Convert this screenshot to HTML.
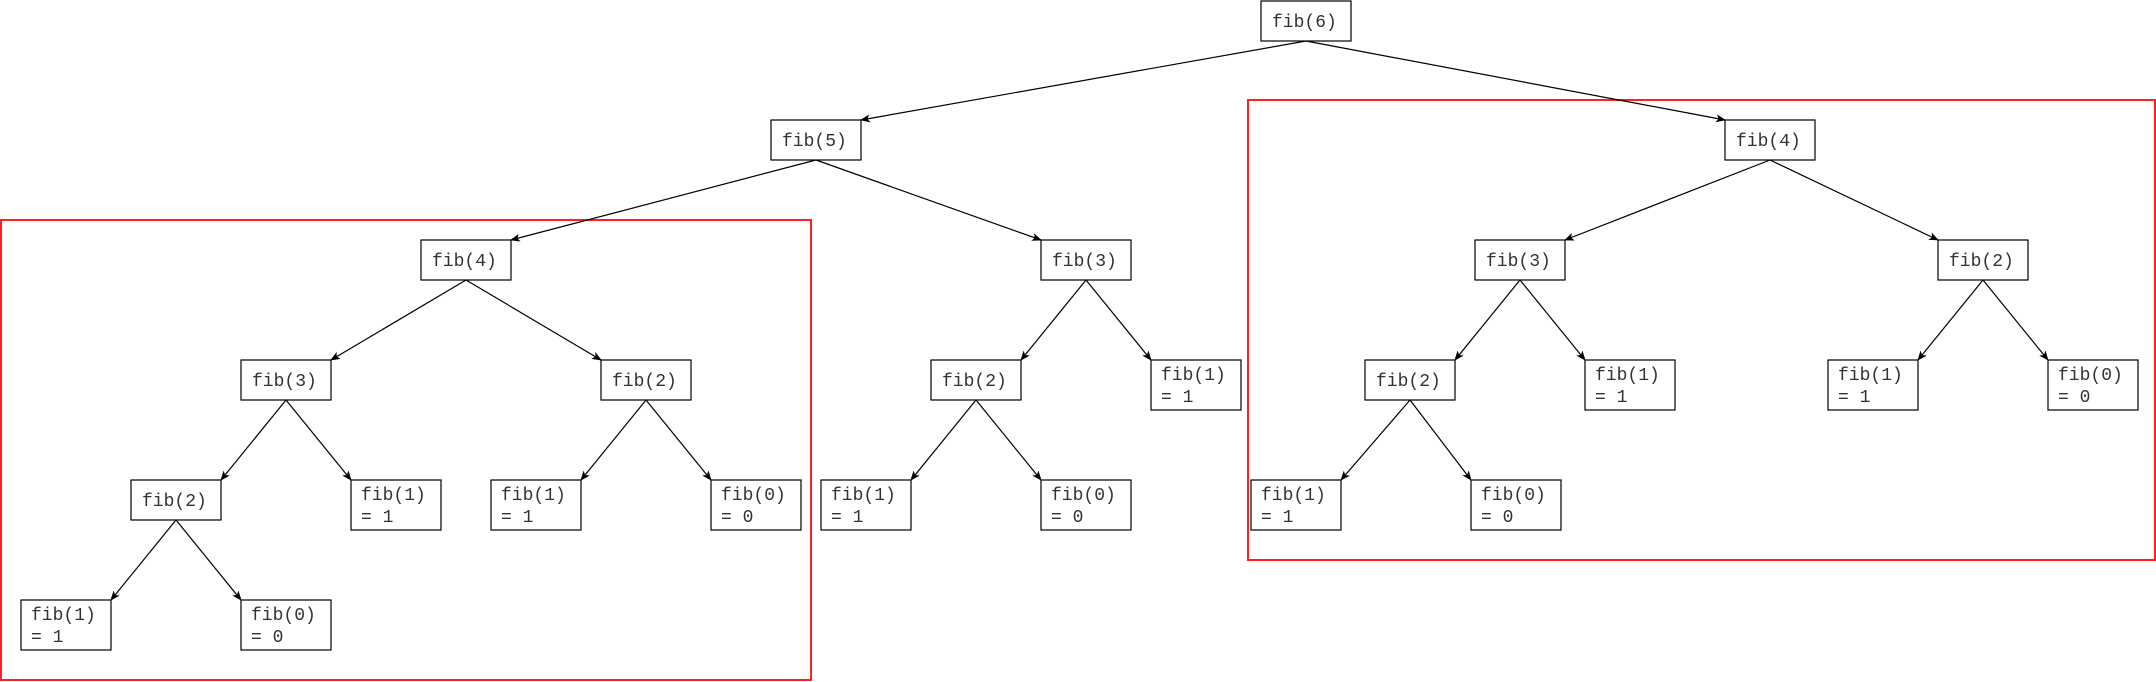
<!DOCTYPE html>
<html><head><meta charset="utf-8"><style>
html,body{margin:0;padding:0;background:#fff;}
svg{display:block;}
text{font-family:"Liberation Mono",monospace;font-size:18px;fill:#333;}
</style></head><body>
<svg width="2156" height="682" viewBox="0 0 2156 682" xmlns="http://www.w3.org/2000/svg">
<defs><marker id="a" markerWidth="10" markerHeight="10" refX="9" refY="4" orient="auto" markerUnits="userSpaceOnUse"><path d="M0,0 L10,4 L0,8 L2.5,4 Z" fill="#000"/></marker></defs>
<rect x="1" y="220" width="810" height="460" fill="none" stroke="#ff2020" stroke-width="2"/>
<rect x="1248" y="100" width="907" height="460" fill="none" stroke="#ff2020" stroke-width="2"/>
<g stroke="#000" stroke-width="1.2" marker-end="url(#a)">
<line x1="1306" y1="41" x2="861" y2="120"/>
<line x1="1306" y1="41" x2="1725" y2="120"/>
<line x1="816" y1="160" x2="511" y2="240"/>
<line x1="816" y1="160" x2="1041" y2="240"/>
<line x1="466" y1="280" x2="331" y2="360"/>
<line x1="466" y1="280" x2="601" y2="360"/>
<line x1="286" y1="400" x2="221" y2="480"/>
<line x1="286" y1="400" x2="351" y2="480"/>
<line x1="176" y1="520" x2="111" y2="600"/>
<line x1="176" y1="520" x2="241" y2="600"/>
<line x1="646" y1="400" x2="581" y2="480"/>
<line x1="646" y1="400" x2="711" y2="480"/>
<line x1="1086" y1="280" x2="1021" y2="360"/>
<line x1="1086" y1="280" x2="1151" y2="360"/>
<line x1="976" y1="400" x2="911" y2="480"/>
<line x1="976" y1="400" x2="1041" y2="480"/>
<line x1="1770" y1="160" x2="1565" y2="240"/>
<line x1="1770" y1="160" x2="1938" y2="240"/>
<line x1="1520" y1="280" x2="1455" y2="360"/>
<line x1="1520" y1="280" x2="1585" y2="360"/>
<line x1="1410" y1="400" x2="1341" y2="480"/>
<line x1="1410" y1="400" x2="1471" y2="480"/>
<line x1="1983" y1="280" x2="1918" y2="360"/>
<line x1="1983" y1="280" x2="2048" y2="360"/>
</g>
<g fill="#fff" stroke="#000" stroke-width="1.2">
<rect x="1261" y="1" width="90" height="40"/>
<rect x="771" y="120" width="90" height="40"/>
<rect x="1725" y="120" width="90" height="40"/>
<rect x="421" y="240" width="90" height="40"/>
<rect x="1041" y="240" width="90" height="40"/>
<rect x="1475" y="240" width="90" height="40"/>
<rect x="1938" y="240" width="90" height="40"/>
<rect x="241" y="360" width="90" height="40"/>
<rect x="601" y="360" width="90" height="40"/>
<rect x="931" y="360" width="90" height="40"/>
<rect x="1151" y="360" width="90" height="50"/>
<rect x="1365" y="360" width="90" height="40"/>
<rect x="1585" y="360" width="90" height="50"/>
<rect x="1828" y="360" width="90" height="50"/>
<rect x="2048" y="360" width="90" height="50"/>
<rect x="131" y="480" width="90" height="40"/>
<rect x="351" y="480" width="90" height="50"/>
<rect x="491" y="480" width="90" height="50"/>
<rect x="711" y="480" width="90" height="50"/>
<rect x="821" y="480" width="90" height="50"/>
<rect x="1041" y="480" width="90" height="50"/>
<rect x="1251" y="480" width="90" height="50"/>
<rect x="1471" y="480" width="90" height="50"/>
<rect x="21" y="600" width="90" height="50"/>
<rect x="241" y="600" width="90" height="50"/>
</g>
<g>
<text x="1272" y="27">fib(6)</text>
<text x="782" y="146">fib(5)</text>
<text x="1736" y="146">fib(4)</text>
<text x="432" y="266">fib(4)</text>
<text x="1052" y="266">fib(3)</text>
<text x="1486" y="266">fib(3)</text>
<text x="1949" y="266">fib(2)</text>
<text x="252" y="386">fib(3)</text>
<text x="612" y="386">fib(2)</text>
<text x="942" y="386">fib(2)</text>
<text x="1376" y="386">fib(2)</text>
<text x="142" y="506">fib(2)</text>
<text x="1161" y="380">fib(1)</text><text x="1161" y="402">= 1</text>
<text x="1595" y="380">fib(1)</text><text x="1595" y="402">= 1</text>
<text x="1838" y="380">fib(1)</text><text x="1838" y="402">= 1</text>
<text x="2058" y="380">fib(0)</text><text x="2058" y="402">= 0</text>
<text x="361" y="500">fib(1)</text><text x="361" y="522">= 1</text>
<text x="501" y="500">fib(1)</text><text x="501" y="522">= 1</text>
<text x="721" y="500">fib(0)</text><text x="721" y="522">= 0</text>
<text x="831" y="500">fib(1)</text><text x="831" y="522">= 1</text>
<text x="1051" y="500">fib(0)</text><text x="1051" y="522">= 0</text>
<text x="1261" y="500">fib(1)</text><text x="1261" y="522">= 1</text>
<text x="1481" y="500">fib(0)</text><text x="1481" y="522">= 0</text>
<text x="31" y="620">fib(1)</text><text x="31" y="642">= 1</text>
<text x="251" y="620">fib(0)</text><text x="251" y="642">= 0</text>
</g>
</svg>
</body></html>
